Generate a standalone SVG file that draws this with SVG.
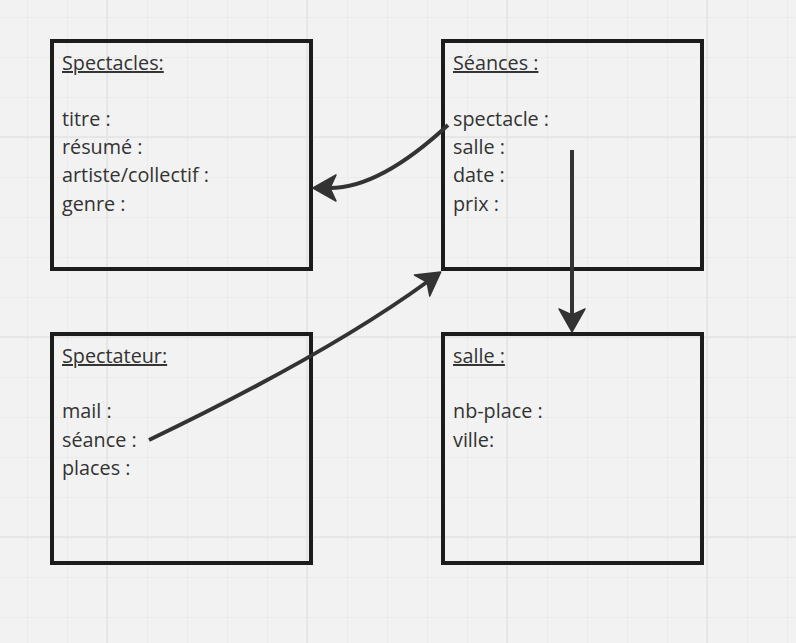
<svg xmlns="http://www.w3.org/2000/svg" width="796" height="643" viewBox="0 0 796 643">
<style>
.box{fill:none;stroke:#1c1c1c;stroke-width:4}
.t{font-family:"Open Sans","Liberation Sans",sans-serif;font-size:19.8px;fill:#333}
.h{text-decoration:underline}
.c{fill:none;stroke:#333;stroke-width:4}
.minor{stroke:#ebebeb;stroke-width:1}
.major{stroke:#e4e4e4;stroke-width:1.5}
</style>
<defs>
<pattern id="minor" x="27" y="17" width="40" height="40" patternUnits="userSpaceOnUse">
<path d="M0.5,0V40M0,0.5H40" class="minor"/>
</pattern>
<marker id="ah" markerUnits="userSpaceOnUse" markerWidth="40" markerHeight="40" refX="0" refY="0" viewBox="-20 -20 40 40" orient="auto">
<path d="M17,0 L-6,-13 L0,0 L-6,13 Z" fill="#333" stroke="#333" stroke-width="1.5" stroke-linejoin="round"/>
</marker>
</defs>
<rect width="796" height="643" fill="#f2f2f2"/>
<rect width="796" height="643" fill="url(#minor)"/>
<g class="major">
<path d="M107,0V643M307,0V643M507,0V643M707,0V643M0,137H796M0,337H796M0,537H796"/>
</g>

<g id="spectacles">
<rect class="box" x="52" y="41" width="259" height="228"/>
<text class="t h" x="62" y="70">Spectacles:</text>
<text class="t" x="62" y="126">titre :</text>
<text class="t" x="62" y="154">résumé :</text>
<text class="t" x="62" y="182">artiste/collectif :</text>
<text class="t" x="62" y="211">genre :</text>
</g>

<g id="seances">
<rect class="box" x="443" y="41" width="259" height="228"/>
<text class="t h" x="453" y="70">Séances :</text>
<text class="t" x="453" y="126">spectacle :</text>
<text class="t" x="453" y="154">salle :</text>
<text class="t" x="453" y="182">date :</text>
<text class="t" x="453" y="211">prix :</text>
</g>

<g id="spectateur">
<rect class="box" x="52" y="334" width="259" height="229"/>
<text class="t h" x="62" y="363">Spectateur:</text>
<text class="t" x="62" y="418">mail :</text>
<text class="t" x="62" y="447">séance :</text>
<text class="t" x="62" y="475">places :</text>
</g>

<g id="salle">
<rect class="box" x="443" y="334" width="259" height="229"/>
<text class="t h" x="453" y="363">salle :</text>
<text class="t" x="453" y="418">nb-place :</text>
<text class="t" x="453" y="447">ville:</text>
</g>

<g id="connectors">
<path class="c" d="M448,125 Q380,188 330,188" marker-end="url(#ah)"/>
<path class="c" d="M149,440 Q328,354 427,282" marker-end="url(#ah)"/>
<path class="c" d="M572,150 L572,315" marker-end="url(#ah)"/>
</g>
</svg>
